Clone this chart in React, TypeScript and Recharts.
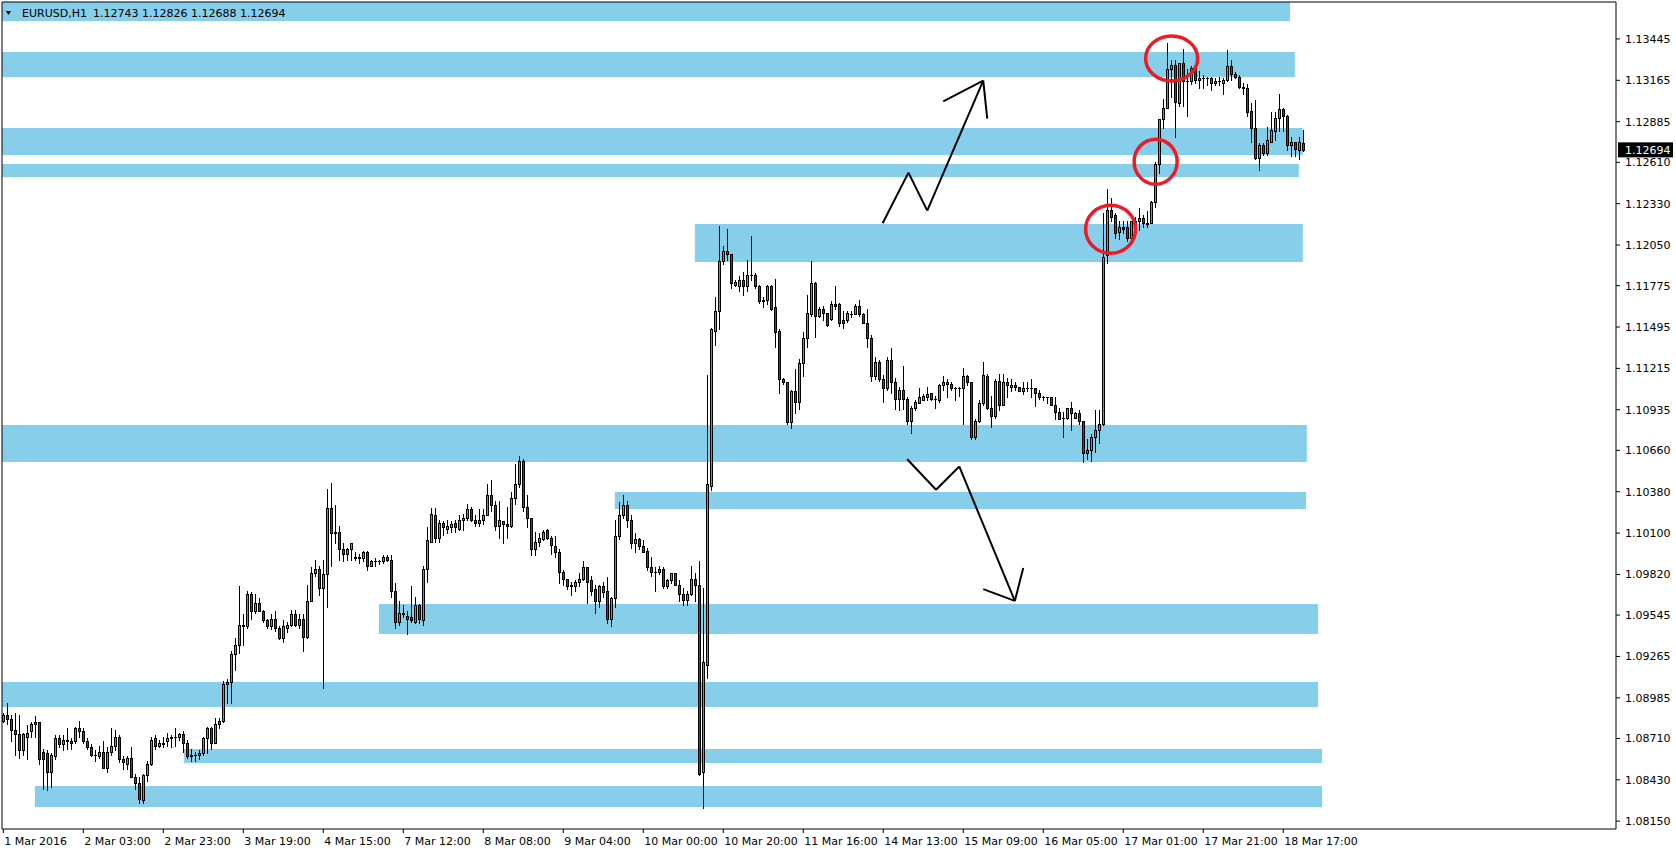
import React from 'react';
import { ComposedChart, Bar, XAxis, YAxis, ReferenceArea, ReferenceLine, ReferenceDot } from 'recharts';

const SYMBOL = 'EURUSD,H1';

const OPEN = [
1.0883,1.0887,1.0884,1.0877,1.0874,1.0863,1.0872,1.0876,1.0881,1.0882,
1.0862,1.0861,1.0848,1.0859,1.0871,1.0867,1.0870,1.0869,1.0869,1.0878,
1.0876,1.0869,1.0865,1.0860,1.0859,1.0862,1.0851,1.0862,1.0866,1.0872,
1.0857,1.0854,1.0858,1.0845,1.0841,1.0829,1.0846,1.0854,1.0871,1.0866,
1.0867,1.0869,1.0871,1.0872,1.0872,1.0874,1.0868,1.0859,1.0860,1.0860,
1.0861,1.0871,1.0878,1.0868,1.0881,1.0883,1.0908,1.0909,1.0928,1.0934,
1.0948,1.0947,1.0969,1.0957,1.0963,1.0957,1.0951,1.0947,1.0952,1.0946,
1.0939,1.0946,1.0948,1.0955,1.0948,1.0952,1.0940,1.0964,1.0983,1.0986,
1.0973,1.0982,1.1027,1.1011,1.1011,1.0999,1.0996,1.0999,1.0994,1.0993,
1.0993,1.0997,1.0988,1.0991,1.0991,1.0991,1.0994,1.0992,1.0971,1.0950,
1.0956,1.0954,1.0953,1.0950,1.0961,1.0951,1.0986,1.1004,1.1022,1.1007,
1.1017,1.1013,1.1014,1.1017,1.1013,1.1019,1.1020,1.1026,1.1019,1.1017,
1.1019,1.1022,1.1036,1.1029,1.1015,1.1018,1.1016,1.1015,1.1034,1.1043,
1.1059,1.1028,1.1020,1.0999,1.1004,1.1006,1.1012,1.1007,1.1001,1.0997,
1.0984,1.0979,1.0975,1.0974,1.0977,1.0979,1.0987,1.0978,1.0972,1.0964,
1.0974,1.0971,1.0952,1.0966,1.1008,1.1022,1.1029,1.1019,1.1003,1.1006,
1.1001,1.0998,1.0987,1.0984,1.0984,1.0986,1.0974,1.0978,1.0983,1.0975,
1.0969,1.0965,1.0969,1.0979,1.0975,1.0848,1.0921,1.1042,1.1147,1.1160,
1.1194,1.1201,1.1199,1.1178,1.1177,1.1181,1.1177,1.1185,1.1185,1.1177,
1.1168,1.1168,1.1177,1.1163,1.1147,1.1114,1.1112,1.1085,1.1106,1.1099,
1.1125,1.1142,1.1158,1.1179,1.1157,1.1162,1.1159,1.1155,1.1165,1.1165,
1.1154,1.1154,1.1158,1.1158,1.1164,1.1158,1.1152,1.1142,1.1116,1.1126,
1.1114,1.1108,1.1127,1.1112,1.1101,1.1107,1.1101,1.1086,1.1095,1.1098,
1.1100,1.1102,1.1105,1.1101,1.1100,1.1110,1.1112,1.1111,1.1108,1.1108,
1.1108,1.1116,1.1112,1.1075,1.1086,1.1098,1.1116,1.1095,1.1089,1.1113,
1.1097,1.1112,1.1109,1.1110,1.1109,1.1106,1.1108,1.1108,1.1108,1.1105,
1.1102,1.1102,1.1102,1.1097,1.1092,1.1088,1.1088,1.1095,1.1088,1.1091,
1.1086,1.1064,1.1066,1.1075,1.1080,1.1084,1.1198,1.1229,1.1225,1.1214,
1.1217,1.1217,1.1210,1.1220,1.1221,1.1223,1.1219,1.1220,1.1234,1.1260,
1.1290,1.1298,1.1324,1.1327,1.1301,1.1328,1.1316,1.1316,1.1325,1.1317,
1.1318,1.1318,1.1318,1.1315,1.1316,1.1315,1.1317,1.1326,1.1321,1.1319,
1.1312,1.1311,1.1296,1.1284,1.1264,1.1273,1.1267,1.1275,1.1282,1.1291,
1.1297,1.1292,1.1273,1.1275,1.1269,1.12743,
];

const HIGH = [
1.0888,1.0895,1.0887,1.0888,1.0887,1.0875,1.0880,1.0882,1.0886,1.0882,
1.0864,1.0863,1.0861,1.0873,1.0873,1.0873,1.0878,1.0871,1.0879,1.0883,
1.0878,1.0871,1.0867,1.0863,1.0866,1.0869,1.0865,1.0878,1.0877,1.0873,
1.0859,1.0859,1.0865,1.0847,1.0845,1.0847,1.0856,1.0872,1.0873,1.0870,
1.0872,1.0875,1.0873,1.0878,1.0875,1.0876,1.0870,1.0864,1.0862,1.0863,
1.0872,1.0879,1.0879,1.0885,1.0885,1.0910,1.0911,1.0930,1.0939,1.0974,
1.0955,1.0971,1.0970,1.0969,1.0966,1.0958,1.0952,1.0955,1.0957,1.0947,
1.0951,1.0950,1.0958,1.0958,1.0955,1.0955,1.0975,1.0987,1.0992,1.0988,
1.0992,1.1040,1.1044,1.1029,1.1015,1.1003,1.1000,1.1003,1.0997,1.0996,
1.0998,1.0998,1.0992,1.0993,1.0992,1.0995,1.0995,1.0995,1.0976,1.0964,
1.0961,1.0957,1.0974,1.0967,1.0962,1.0988,1.1014,1.1027,1.1027,1.1019,
1.1018,1.1019,1.1018,1.1019,1.1022,1.1023,1.1030,1.1028,1.1022,1.1026,
1.1026,1.1043,1.1046,1.1032,1.1032,1.1018,1.1028,1.1038,1.1057,1.1062,
1.1060,1.1036,1.1020,1.1011,1.1010,1.1012,1.1013,1.1008,1.1008,1.0999,
1.0985,1.0979,1.0977,1.0978,1.0983,1.0991,1.0987,1.0981,1.0975,1.0975,
1.0977,1.0980,1.0967,1.1019,1.1031,1.1036,1.1032,1.1022,1.1010,1.1007,
1.1005,1.1000,1.0994,1.0987,1.0988,1.0987,1.0979,1.0983,1.0983,1.0978,
1.0973,1.0971,1.0988,1.0983,1.0991,1.0973,1.1117,1.1149,1.1170,1.1218,
1.1204,1.1216,1.1199,1.1181,1.1184,1.1187,1.1195,1.1211,1.1186,1.1178,
1.1170,1.1178,1.1178,1.1182,1.1148,1.1115,1.1112,1.1107,1.1121,1.1128,
1.1146,1.1171,1.1194,1.1180,1.1163,1.1164,1.1159,1.1167,1.1177,1.1166,
1.1160,1.1160,1.1160,1.1165,1.1168,1.1159,1.1162,1.1144,1.1129,1.1127,
1.1117,1.1129,1.1135,1.1115,1.1109,1.1123,1.1102,1.1096,1.1100,1.1108,
1.1104,1.1109,1.1105,1.1103,1.1111,1.1116,1.1114,1.1112,1.1109,1.1109,
1.1122,1.1117,1.1112,1.1087,1.1100,1.1126,1.1118,1.1103,1.1114,1.1118,
1.1118,1.1115,1.1114,1.1112,1.1109,1.1112,1.1112,1.1114,1.1108,1.1107,
1.1103,1.1102,1.1102,1.1102,1.1095,1.1092,1.1095,1.1099,1.1092,1.1093,
1.1086,1.1074,1.1077,1.1093,1.1093,1.1227,1.1243,1.1237,1.1227,1.1221,
1.1221,1.1221,1.1221,1.1224,1.1230,1.1225,1.1228,1.1235,1.1261,1.1290,
1.1304,1.1342,1.1330,1.1330,1.1328,1.1338,1.1324,1.1326,1.1325,1.1323,
1.1320,1.1319,1.1319,1.1318,1.1319,1.1318,1.1337,1.1330,1.1322,1.1320,
1.1315,1.1314,1.1301,1.1303,1.1274,1.1274,1.1285,1.1295,1.1295,1.1307,
1.1298,1.1293,1.1278,1.1275,1.1278,1.12826,
];

const LOW = [
1.0882,1.0881,1.0869,1.0860,1.0858,1.0860,1.0857,1.0872,1.0872,1.0854,
1.0837,1.0836,1.0838,1.0857,1.0865,1.0863,1.0864,1.0864,1.0868,1.0872,
1.0868,1.0864,1.0859,1.0856,1.0858,1.0851,1.0848,1.0860,1.0863,1.0855,
1.0850,1.0850,1.0845,1.0837,1.0827,1.0827,1.0842,1.0853,1.0864,1.0865,
1.0865,1.0866,1.0865,1.0866,1.0870,1.0862,1.0858,1.0856,1.0856,1.0857,
1.0860,1.0861,1.0864,1.0868,1.0878,1.0882,1.0895,1.0895,1.0917,1.0929,
1.0934,1.0946,1.0952,1.0956,1.0957,1.0950,1.0946,1.0945,1.0944,1.0938,
1.0936,1.0943,1.0947,1.0947,1.0946,1.0930,1.0939,1.0964,1.0981,1.0968,
1.0905,1.0960,1.0988,1.1003,1.0992,1.0991,1.0992,1.0992,1.0992,1.0990,
1.0991,1.0985,1.0988,1.0988,1.0989,1.0990,1.0991,1.0967,1.0946,1.0948,
1.0953,1.0942,1.0950,1.0949,1.0949,1.0948,1.0977,1.1004,1.1004,1.1004,
1.1009,1.1010,1.1011,1.1011,1.1012,1.1012,1.1019,1.1018,1.1015,1.1015,
1.1016,1.1022,1.1025,1.1012,1.1007,1.1003,1.1007,1.1014,1.1030,1.1041,
1.1025,1.1014,1.0995,1.0995,1.1001,1.1005,1.1006,1.0996,1.0994,1.0976,
1.0975,1.0972,1.0968,1.0971,1.0974,1.0978,1.0963,1.0968,1.0956,1.0960,
1.0967,1.0949,1.0947,1.0960,1.1006,1.1020,1.1014,1.1000,1.0997,1.0999,
1.0997,1.0985,1.0981,1.0971,1.0982,1.0973,1.0973,1.0976,1.0975,1.0964,
1.0961,1.0961,1.0968,1.0964,1.0846,1.0824,1.0912,1.1039,1.1137,1.1148,
1.1192,1.1195,1.1176,1.1177,1.1174,1.1171,1.1174,1.1181,1.1176,1.1166,
1.1163,1.1165,1.1161,1.1136,1.1105,1.1111,1.1084,1.1081,1.1091,1.1094,
1.1116,1.1136,1.1157,1.1143,1.1156,1.1154,1.1150,1.1154,1.1162,1.1150,
1.1149,1.1153,1.1156,1.1158,1.1157,1.1152,1.1136,1.1113,1.1114,1.1113,
1.1099,1.1107,1.1105,1.1094,1.1093,1.1094,1.1084,1.1078,1.1093,1.1098,
1.1100,1.1100,1.1100,1.1095,1.1099,1.1107,1.1102,1.1107,1.1100,1.1103,
1.1084,1.1110,1.1074,1.1074,1.1085,1.1097,1.1094,1.1082,1.1088,1.1093,
1.1097,1.1102,1.1106,1.1107,1.1106,1.1104,1.1106,1.1102,1.1096,1.1101,
1.1100,1.1098,1.1097,1.1087,1.1087,1.1075,1.1087,1.1080,1.1088,1.1084,
1.1058,1.1060,1.1059,1.1065,1.1071,1.1083,1.1193,1.1221,1.1210,1.1209,
1.1213,1.1208,1.1210,1.1217,1.1215,1.1217,1.1217,1.1220,1.1231,1.1254,
1.1284,1.1298,1.1305,1.1278,1.1299,1.1299,1.1292,1.1314,1.1315,1.1311,
1.1311,1.1313,1.1310,1.1313,1.1313,1.1307,1.1316,1.1317,1.1318,1.1311,
1.1307,1.1292,1.1275,1.1263,1.1256,1.1266,1.1266,1.1275,1.1276,1.1282,
1.1282,1.1269,1.1265,1.1265,1.1263,1.12688,
];

const CLOSE = [
1.0887,1.0884,1.0877,1.0874,1.0863,1.0874,1.0875,1.0881,1.0882,1.0857,
1.0857,1.0848,1.0860,1.0871,1.0867,1.0870,1.0869,1.0868,1.0878,1.0876,
1.0869,1.0865,1.0860,1.0860,1.0862,1.0851,1.0862,1.0866,1.0872,1.0857,
1.0855,1.0858,1.0845,1.0841,1.0830,1.0846,1.0854,1.0870,1.0866,1.0868,
1.0868,1.0871,1.0872,1.0872,1.0874,1.0868,1.0859,1.0860,1.0860,1.0861,
1.0871,1.0878,1.0868,1.0881,1.0883,1.0908,1.0909,1.0928,1.0934,1.0948,
1.0947,1.0969,1.0957,1.0963,1.0957,1.0951,1.0947,1.0952,1.0946,1.0939,
1.0947,1.0948,1.0955,1.0948,1.0952,1.0940,1.0964,1.0983,1.0986,1.0973,
1.0982,1.1027,1.1010,1.1010,1.0999,1.0996,1.0999,1.1003,1.0993,1.0994,
1.0997,1.0988,1.0991,1.0991,1.0991,1.0994,1.0992,1.0971,1.0950,1.0956,
1.0955,1.0952,1.0951,1.0961,1.0952,1.0986,1.1005,1.1023,1.1007,1.1017,
1.1014,1.1015,1.1016,1.1014,1.1019,1.1020,1.1026,1.1019,1.1017,1.1019,
1.1022,1.1036,1.1029,1.1015,1.1019,1.1016,1.1015,1.1034,1.1043,1.1059,
1.1028,1.1020,1.0999,1.1004,1.1007,1.1011,1.1007,1.1002,1.0997,1.0984,
1.0979,1.0974,1.0974,1.0977,1.0979,1.0987,1.0977,1.0971,1.0964,1.0974,
1.0970,1.0952,1.0966,1.1008,1.1022,1.1029,1.1019,1.1003,1.1006,1.1001,
1.0997,1.0987,1.0984,1.0984,1.0986,1.0974,1.0978,1.0983,1.0975,1.0969,
1.0965,1.0969,1.0979,1.0975,1.0847,1.0923,1.1043,1.1148,1.1160,1.1194,
1.1201,1.1199,1.1179,1.1180,1.1181,1.1177,1.1185,1.1185,1.1177,1.1167,
1.1167,1.1177,1.1162,1.1146,1.1114,1.1112,1.1085,1.1106,1.1099,1.1125,
1.1142,1.1159,1.1179,1.1157,1.1162,1.1159,1.1151,1.1165,1.1164,1.1152,
1.1152,1.1159,1.1158,1.1164,1.1158,1.1152,1.1142,1.1116,1.1126,1.1114,
1.1108,1.1127,1.1112,1.1101,1.1107,1.1101,1.1086,1.1095,1.1099,1.1102,
1.1103,1.1104,1.1101,1.1101,1.1110,1.1112,1.1111,1.1108,1.1108,1.1108,
1.1116,1.1112,1.1075,1.1086,1.1098,1.1117,1.1095,1.1089,1.1113,1.1097,
1.1112,1.1110,1.1110,1.1109,1.1106,1.1108,1.1108,1.1108,1.1105,1.1102,
1.1102,1.1102,1.1097,1.1092,1.1087,1.1088,1.1095,1.1091,1.1091,1.1086,
1.1064,1.1066,1.1075,1.1080,1.1084,1.1197,1.1229,1.1224,1.1213,1.1217,
1.1216,1.1210,1.1221,1.1221,1.1223,1.1220,1.1220,1.1234,1.1260,1.1290,
1.1298,1.1324,1.1327,1.1302,1.1328,1.1316,1.1316,1.1325,1.1317,1.1318,
1.1318,1.1318,1.1315,1.1316,1.1316,1.1317,1.1326,1.1321,1.1319,1.1312,
1.1311,1.1295,1.1284,1.1264,1.1273,1.1267,1.1276,1.1283,1.1291,1.1297,
1.1292,1.1273,1.1275,1.1270,1.1275,1.12694,
];

const TICK_LABELS = [
  '1 Mar 2016', '2 Mar 03:00', '2 Mar 23:00', '3 Mar 19:00', '4 Mar 15:00',
  '7 Mar 12:00', '8 Mar 08:00', '9 Mar 04:00', '10 Mar 00:00', '10 Mar 20:00',
  '11 Mar 16:00', '14 Mar 13:00', '15 Mar 09:00', '16 Mar 05:00', '17 Mar 01:00',
  '17 Mar 21:00', '18 Mar 17:00',
];
const TICK_STEP = 20;
const X_TICKS = TICK_LABELS.map((_, k) => k * TICK_STEP);

const Y_TICKS = [
  1.13445, 1.13165, 1.12885, 1.1261, 1.1233, 1.1205, 1.11775, 1.11495, 1.11215, 1.10935,
  1.1066, 1.1038, 1.101, 1.0982, 1.09545, 1.09265, 1.08985, 1.0871, 1.0843, 1.0815,
];

const X_MIN = -0.325;
const X_MAX = 403.2;
const Y_MIN = 1.08097;
const Y_MAX = 1.13695;

// support / resistance zones: bar range and price range
const ZONE_FROM = [X_MIN, X_MIN, X_MIN, X_MIN, 172.9, X_MIN, 152.9, 93.9, X_MIN, 45.2, 7.9];
const ZONE_TO = [321.7, 322.9, 324.9, 323.9, 324.9, 325.9, 325.7, 328.7, 328.7, 329.7, 329.7];
const ZONE_HI = [Y_MAX, 1.13357, 1.12842, 1.12599, 1.12192, 1.10832, 1.10378, 1.0962, 1.09092, 1.08638, 1.08388];
const ZONE_LO = [1.13567, 1.13188, 1.1266, 1.12511, 1.11935, 1.10581, 1.10263, 1.09417, 1.08923, 1.08544, 1.08246];

// hand drawn scenario arrows (bar index, price)
const UP_PATH = [
  { x: 219.85, y: 1.12197 }, { x: 226.3, y: 1.1254 }, { x: 231.0, y: 1.12283 }, { x: 245.0, y: 1.13163 },
];
const UP_HEAD = [{ x: 235.0, y: 1.13023 }, { x: 245.0, y: 1.13163 }, { x: 246.0, y: 1.12905 }];
const DOWN_PATH = [
  { x: 226.0, y: 1.106 }, { x: 233.2, y: 1.10393 }, { x: 239.0, y: 1.10551 }, { x: 252.9, y: 1.09641 },
];
const DOWN_HEAD = [{ x: 245.0, y: 1.09721 }, { x: 252.9, y: 1.09641 }, { x: 255.0, y: 1.09864 }];

// highlighted spots (bar index, price)
const CIRCLE_X = [292.1, 288.1, 276.85];
const CIRCLE_Y = [1.13313, 1.12614, 1.12157];
const CIRCLE_RX = [26, 21.5, 25];
const CIRCLE_RY = [22.5, 22.5, 24];

const GREEN = '#2ec82e';
const RED = '#cc1111';
const ZONE = '#87ceeb';
const FONT = "'DejaVu Sans', sans-serif";

const data = OPEN.map((o, i) => ({
  i,
  open: o,
  high: HIGH[i],
  low: LOW[i],
  close: CLOSE[i],
  range: [LOW[i], HIGH[i]],
}));

const Candle = (props: any) => {
  const { x, y, width, height, payload } = props;
  if (x == null || y == null || !payload) return null;
  const top = Math.min(y, y + height);
  const bot = Math.max(y, y + height);
  const { open, high, low, close } = payload;
  const span = high - low;
  const px = (v: number) => (span > 0 ? top + ((high - v) / span) * (bot - top) : top);
  const c = Math.round(x + width / 2 - 0.5);
  const hi = Math.round(px(high));
  const lo = Math.round(px(low));
  const bTop = Math.round(px(Math.max(open, close)));
  const bBot = Math.round(px(Math.min(open, close)));
  const up = close >= open;
  return (
    <g>
      <rect x={c} y={hi} width={1} height={Math.max(1, lo - hi + 1)} fill="#000" />
      <rect x={c - 1} y={bTop} width={3} height={Math.max(1, bBot - bTop + 1)} fill="#000" />
      {bBot - bTop > 1 && (
        <rect x={c} y={bTop + 1} width={1} height={bBot - bTop - 1} fill={up ? GREEN : RED} />
      )}
    </g>
  );
};

const XTick = (props: any) => {
  const { x, y, payload } = props;
  const label = TICK_LABELS[Math.round(payload.value / TICK_STEP)] ?? '';
  return (
    <text x={x + 1} y={y + 10} fontSize={11} fontFamily={FONT} fill="#000" textAnchor="start">
      {label}
    </text>
  );
};

const last = OPEN.length - 1;

const HeaderLabel = (props: any) => {
  const vb = props.viewBox || { x: 2, y: 2 };
  const x0 = vb.x;
  const y0 = vb.y;
  const ohlc = [OPEN[last], HIGH[last], LOW[last], CLOSE[last]].map((v) => v.toFixed(5)).join(' ');
  return (
    <g>
      <path d={`M${x0 + 4} ${y0 + 9} L${x0 + 9} ${y0 + 9} L${x0 + 6.5} ${y0 + 13} Z`} fill="#000" />
      <text x={x0 + 20} y={y0 + 14.5} fontSize={11} fontFamily={FONT} fill="#000">{SYMBOL}</text>
      <text x={x0 + 91} y={y0 + 14.5} fontSize={11} fontFamily={FONT} fill="#000">{ohlc}</text>
    </g>
  );
};

const PriceTag = (props: any) => {
  const vb = props.viewBox;
  if (!vb) return null;
  const right = vb.x + vb.width;
  return (
    <g>
      <rect x={right + 2} y={vb.y - 7.5} width={55} height={15} fill="#000" />
      <text x={right + 9} y={vb.y} dy="0.355em" fontSize={11} fontFamily={FONT} fill="#fff">
        {CLOSE[last].toFixed(5)}
      </text>
    </g>
  );
};

const segments = (pts: { x: number; y: number }[]) =>
  pts.slice(1).map((p, k) => [pts[k], p] as [{ x: number; y: number }, { x: number; y: number }]);

export default function App() {
  const lines = [
    ...segments(UP_PATH),
    ...segments(UP_HEAD),
    ...segments(DOWN_PATH),
    ...segments(DOWN_HEAD),
  ];
  return (
    <div style={{ position: 'absolute', left: 0, top: 0, width: 1676, height: 852, background: '#fff' }}>
      <ComposedChart
        width={1676}
        height={852}
        data={data}
        margin={{ top: 2, right: 0, bottom: 0, left: 2 }}
      >
        <XAxis
          dataKey="i"
          type="number"
          domain={[X_MIN, X_MAX]}
          allowDataOverflow
          ticks={X_TICKS}
          interval={0}
          height={23}
          tickSize={4}
          tickMargin={2}
          axisLine={{ stroke: '#000' }}
          tickLine={{ stroke: '#000' }}
          tick={<XTick />}
        />
        <YAxis
          orientation="right"
          type="number"
          domain={[Y_MIN, Y_MAX]}
          allowDataOverflow
          ticks={Y_TICKS}
          interval={0}
          width={60}
          tickSize={4}
          tickMargin={5}
          axisLine={{ stroke: '#000' }}
          tickLine={{ stroke: '#000' }}
          tick={{ fill: '#000', fontSize: 11, fontFamily: FONT }}
          tickFormatter={(v: number) => v.toFixed(5)}
        />
        <ReferenceLine y={Y_MAX} stroke="#000" ifOverflow="visible" />
        {ZONE_FROM.map((from, k) => (
          <ReferenceArea
            key={'z' + k}
            x1={from}
            x2={ZONE_TO[k]}
            y1={ZONE_LO[k]}
            y2={ZONE_HI[k]}
            fill={ZONE}
            fillOpacity={1}
            stroke="none"
            ifOverflow="visible"
            label={k === 0 ? HeaderLabel : undefined}
          />
        ))}
        <ReferenceLine x={X_MIN} stroke="#000" ifOverflow="visible" />
        <Bar dataKey="range" shape={Candle} barSize={4} isAnimationActive={false} />
        {lines.map((seg, k) => (
          <ReferenceLine
            key={'l' + k}
            segment={seg}
            stroke="#000"
            strokeWidth={2}
            ifOverflow="visible"
          />
        ))}
        {CIRCLE_X.map((cx, k) => (
          <ReferenceDot
            key={'c' + k}
            x={cx}
            y={CIRCLE_Y[k]}
            r={1}
            ifOverflow="visible"
            shape={(p: any) => (
              <ellipse
                cx={p.cx}
                cy={p.cy}
                rx={CIRCLE_RX[k]}
                ry={CIRCLE_RY[k]}
                fill="none"
                stroke="#ed1c24"
                strokeWidth={3.5}
              />
            )}
          />
        ))}
        <ReferenceLine y={CLOSE[last]} stroke="none" ifOverflow="visible" label={PriceTag} />
      </ComposedChart>
    </div>
  );
}
